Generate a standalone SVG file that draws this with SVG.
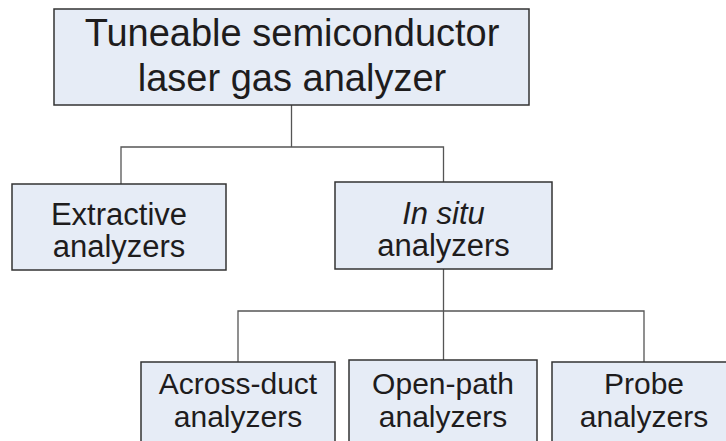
<svg xmlns="http://www.w3.org/2000/svg" width="726" height="441" viewBox="0 0 726 441">
  <style>
    .box { fill: #e6ecf6; stroke: #333333; stroke-width: 1.5; }
    .wire { fill: none; stroke: #555555; stroke-width: 1.3; }
    text { font-family: "Liberation Sans", Arial, sans-serif; fill: #1e1c1d; text-anchor: middle; }
    .t1 { font-size: 38px; }
    .t2 { font-size: 31px; }
    .t3 { font-size: 30px; }
  </style>
  <rect width="726" height="441" fill="#ffffff"/>

  <g id="connectors">
    <!-- root to second level -->
    <path class="wire" d="M291.5 105 V147 M121 184 V147 H443.5 V182"/>
    <!-- in situ to third level -->
    <path class="wire" d="M443.5 269 V311 M238 362 V311 H644 V362 M443.5 311 V360"/>
  </g>

  <g id="root">
    <rect class="box" x="54" y="9" width="475" height="96"/>
    <text class="t1" x="292" y="46">Tuneable semiconductor</text>
    <text class="t1" x="292" y="91">laser gas analyzer</text>
  </g>

  <g id="extractive">
    <rect class="box" x="12" y="184" width="214" height="86"/>
    <text class="t2" x="119" y="225">Extractive</text>
    <text class="t2" x="119" y="257">analyzers</text>
  </g>

  <g id="insitu">
    <rect class="box" x="335" y="182" width="217" height="87"/>
    <text class="t2" x="443.5" y="224"><tspan font-style="italic">In situ</tspan></text>
    <text class="t2" x="443.5" y="256">analyzers</text>
  </g>

  <g id="acrossduct">
    <rect class="box" x="141" y="362" width="194" height="90"/>
    <text class="t3" x="238" y="394">Across-duct</text>
    <text class="t3" x="238" y="427">analyzers</text>
  </g>

  <g id="openpath">
    <rect class="box" x="349" y="360" width="188" height="92"/>
    <text class="t3" x="443" y="394">Open-path</text>
    <text class="t3" x="443" y="427">analyzers</text>
  </g>

  <g id="probe">
    <rect class="box" x="552" y="362" width="186" height="90"/>
    <text class="t3" x="644" y="394">Probe</text>
    <text class="t3" x="644" y="427">analyzers</text>
  </g>
</svg>
